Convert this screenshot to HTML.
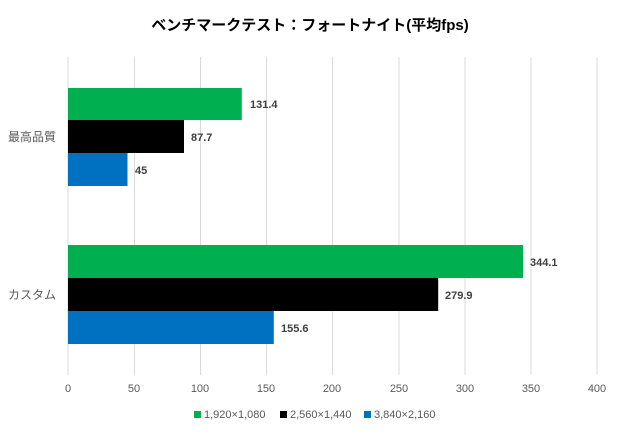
<!DOCTYPE html>
<html><head><meta charset="utf-8"><style>
body{margin:0;background:#fff;}
svg text{font-family:"Liberation Sans","Noto Sans CJK JP",sans-serif;}
</style></head><body>
<svg width="620" height="435" xmlns="http://www.w3.org/2000/svg">
<rect width="620" height="435" fill="#fff"/>
<text x="310" y="30" text-anchor="middle" font-size="15" font-weight="bold" fill="#000">ベンチマークテスト：フォートナイト(平均fps)</text>
<g stroke="#d9d9d9" stroke-width="1">
<line x1="68" y1="57" x2="68" y2="375"/><line x1="134.5" y1="57" x2="134.5" y2="375"/><line x1="200.5" y1="57" x2="200.5" y2="375"/><line x1="266.5" y1="57" x2="266.5" y2="375"/><line x1="332.5" y1="57" x2="332.5" y2="375"/><line x1="399" y1="57" x2="399" y2="375"/><line x1="465" y1="57" x2="465" y2="375"/><line x1="531" y1="57" x2="531" y2="375"/><line x1="597" y1="57" x2="597" y2="375"/>
</g>
<rect x="68" y="88" width="173.8" height="32" fill="#00b050"/>
<rect x="68" y="120" width="116" height="33" fill="#000"/>
<rect x="68" y="153" width="59.5" height="33" fill="#0070c0"/>
<rect x="68" y="245" width="455" height="33" fill="#00b050"/>
<rect x="68" y="278" width="370.2" height="33" fill="#000"/>
<rect x="68" y="311" width="205.8" height="33" fill="#0070c0"/>
<g font-size="11" font-weight="bold" fill="#404040">
<text x="250" y="108">131.4</text><text x="191" y="141">87.7</text><text x="135" y="174">45</text>
<text x="530" y="266">344.1</text><text x="445" y="299">279.9</text><text x="281" y="332">155.6</text>
</g>
<g font-size="12" fill="#595959">
<text x="8" y="141">最高品質</text><text x="8" y="299">カスタム</text>
</g>
<g font-size="11" fill="#595959" text-anchor="middle">
<text x="68" y="392">0</text><text x="134" y="392">50</text><text x="200" y="392">100</text><text x="266" y="392">150</text><text x="332" y="392">200</text><text x="399" y="392">250</text><text x="465" y="392">300</text><text x="531" y="392">350</text><text x="597" y="392">400</text>
</g>
<g font-size="11" fill="#595959">
<rect x="194" y="411" width="7" height="7" fill="#00b050"/><text x="204" y="418">1,920×1,080</text>
<rect x="280" y="411" width="7" height="7" fill="#000"/><text x="290" y="418">2,560×1,440</text>
<rect x="364" y="411" width="7" height="7" fill="#0070c0"/><text x="374" y="418">3,840×2,160</text>
</g>
</svg>
</body></html>
